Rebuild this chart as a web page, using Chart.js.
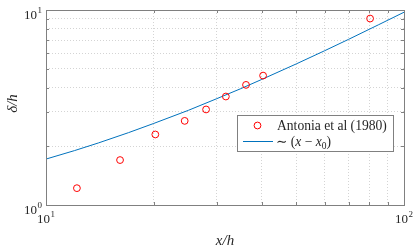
<!DOCTYPE html>
<html>
<head>
<meta charset="utf-8">
<script src="https://cdn.jsdelivr.net/npm/chart.js@4.4.1/dist/chart.umd.min.js"></script>
<style>
  html, body { margin: 0; padding: 0; background: #fff; }
  #wrap { width: 415px; height: 251px; }
</style>
</head>
<body>
<div id="wrap"><canvas id="plot" width="415" height="251"></canvas></div>
<script>
// data (log-log axes)
const antoniaX = [12.2, 16.1, 20.2, 24.4, 28.0, 31.8, 36.2, 40.4, 80.4];
const antoniaY = [1.22, 1.70, 2.30, 2.70, 3.09, 3.60, 4.13, 4.61, 9.04];
const fitX = [10, 12, 14, 17, 20, 25, 30, 35, 40, 50, 60, 70, 85, 100];
const fitY = [1.72, 1.90, 2.08, 2.35, 2.62, 3.06, 3.51, 3.95, 4.40, 5.29, 6.18, 7.07, 8.41, 9.74];
const xRange = [10, 100];
const yRange = [1, 10];
const xGridTicks = [10, 20, 30, 40, 50, 60, 70, 80, 90, 100];
const yGridTicks = [1, 2, 3, 4, 5, 6, 7, 8, 9, 10];
const xExponents = [1, 2];
const yExponents = [0, 1];
const legendNames = ['Antonia et al (1980)', '\u223C (x \u2212 x0)'];

const serif = '"Liberation Serif", "DejaVu Serif", serif';
const red = '#ff0000';
const blue = '#0072bd';
const boxColor = '#808080';

function toPoints(xs, ys) {
    return xs.map((x, i) => ({ x: x, y: ys[i] }));
}

function powerLabel(ctx, base, exp, x, y, align) {
    ctx.font = '13px ' + serif;
    const wb = ctx.measureText(base).width;
    ctx.font = '9px ' + serif;
    const we = ctx.measureText(exp).width;
    let left = x;
    if (align === 'right') left = x - wb - we - 0.5;
    if (align === 'center') left = x - (wb + we + 0.5) / 2;
    ctx.textAlign = 'left';
    ctx.textBaseline = 'alphabetic';
    ctx.font = '13px ' + serif;
    ctx.fillText(base, left, y);
    ctx.font = '9px ' + serif;
    ctx.fillText(exp, left + wb + 0.5, y - 6.5);
}

const axesFrame = {
    id: 'axesFrame',
    afterDatasetsDraw(chart) {
        const ctx = chart.ctx;
        const a = chart.chartArea;
        const xs = chart.scales.x;
        const ys = chart.scales.y;
        ctx.save();
        ctx.strokeStyle = boxColor;
        ctx.lineWidth = 1;
        // inward ticks on all four sides
        ctx.beginPath();
        xs.ticks.forEach(t => {
            const px = Math.round(xs.getPixelForValue(t.value)) + 0.5;
            if (px <= a.left + 1 || px >= a.right - 1) return;
            ctx.moveTo(px, a.bottom); ctx.lineTo(px, a.bottom - 3);
            ctx.moveTo(px, a.top); ctx.lineTo(px, a.top + 3);
        });
        ys.ticks.forEach(t => {
            const py = Math.round(ys.getPixelForValue(t.value)) + 0.5;
            if (py <= a.top + 1 || py >= a.bottom - 1) return;
            ctx.moveTo(a.left, py); ctx.lineTo(a.left + 3, py);
            ctx.moveTo(a.right, py); ctx.lineTo(a.right - 3, py);
        });
        ctx.stroke();
        ctx.strokeRect(a.left + 0.5, a.top + 0.5, a.right - a.left, a.bottom - a.top);
        ctx.restore();
    },
    afterDraw(chart) {
        const ctx = chart.ctx;
        const a = chart.chartArea;
        const xs = chart.scales.x;
        const ys = chart.scales.y;
        ctx.save();
        ctx.fillStyle = '#262626';

        xExponents.forEach(e => {
            const px = xs.getPixelForValue(Math.pow(10, e));
            powerLabel(ctx, '10', String(e), px, a.bottom + 18, 'center');
        });
        yExponents.forEach(e => {
            const py = ys.getPixelForValue(Math.pow(10, e));
            powerLabel(ctx, '10', String(e), a.left - 4, py + 9, 'right');
        });

        // axis titles
        ctx.font = 'italic 15px ' + serif;
        ctx.textAlign = 'center';
        ctx.textBaseline = 'alphabetic';
        ctx.fillText('x/h', (a.left + a.right) / 2, 245);
        ctx.save();
        ctx.translate(17, (a.top + a.bottom) / 2 - 4);
        ctx.rotate(-Math.PI / 2);
        ctx.fillText('\u03B4/h', 0, 0);
        ctx.restore();

        // legend box
        const bx = 237, by = 115, bw = 156, bh = 36;
        ctx.fillStyle = '#fff';
        ctx.fillRect(bx, by, bw, bh);
        ctx.strokeStyle = boxColor;
        ctx.lineWidth = 1;
        ctx.strokeRect(bx + 0.5, by + 0.5, bw, bh);

        const pts = chart.data.datasets[1];
        ctx.strokeStyle = pts.borderColor;
        ctx.lineWidth = pts.borderWidth;
        ctx.beginPath();
        ctx.arc(257.5, 125.5, pts.pointRadius, 0, Math.PI * 2);
        ctx.stroke();

        const fit = chart.data.datasets[0];
        ctx.strokeStyle = fit.borderColor;
        ctx.lineWidth = fit.borderWidth;
        ctx.beginPath();
        ctx.moveTo(243, 141.5);
        ctx.lineTo(273, 141.5);
        ctx.stroke();

        ctx.fillStyle = '#262626';
        ctx.textAlign = 'left';
        ctx.font = '13.6px ' + serif;
        ctx.fillText(legendNames[0], 277, 130);

        // "~ (x - x0)" with italic x and subscript 0
        let cx = 276;
        const parts = [
            ['\u223C ', '13.6px ' + serif, 0],
            ['(', '13.6px ' + serif, 0],
            ['x', 'italic 13.6px ' + serif, 0],
            [' \u2212 ', '13.6px ' + serif, 0],
            ['x', 'italic 13.6px ' + serif, 0],
            ['0', '9.5px ' + serif, 2.5],
            [')', '13.6px ' + serif, 0]
        ];
        parts.forEach(p => {
            ctx.font = p[1];
            ctx.fillText(p[0], cx, 146 + p[2]);
            cx += ctx.measureText(p[0]).width;
        });
        ctx.restore();
    }
};

function fixedTicks(values) {
    return scale => { scale.ticks = values.map(v => ({ value: v })); };
}

const chart = new Chart(document.getElementById('plot'), {
    type: 'scatter',
    data: {
        datasets: [{
            label: legendNames[1],
            data: toPoints(fitX, fitY),
            showLine: true,
            borderColor: blue,
            borderWidth: 1,
            pointRadius: 0,
            fill: false,
            tension: 0,
            order: 2
        }, {
            label: legendNames[0],
            data: toPoints(antoniaX, antoniaY),
            showLine: false,
            borderColor: red,
            backgroundColor: 'rgba(0,0,0,0)',
            borderWidth: 1,
            pointRadius: 3.4,
            pointStyle: 'circle',
            order: 1
        }]
    },
    options: {
        responsive: false,
        animation: false,
        devicePixelRatio: 1,
        layout: { padding: { left: 46, right: 11, top: 10, bottom: 46 } },
        plugins: {
            legend: { display: false },
            tooltip: { enabled: false }
        },
        scales: {
            x: {
                type: 'logarithmic',
                min: xRange[0],
                max: xRange[1],
                afterBuildTicks: fixedTicks(xGridTicks),
                ticks: { display: false, autoSkip: false },
                grid: { color: '#d4d4d4', lineWidth: 1, drawTicks: false },
                border: { display: false, dash: [1, 2] },
                afterFit: s => { s.height = 0; }
            },
            y: {
                type: 'logarithmic',
                min: yRange[0],
                max: yRange[1],
                afterBuildTicks: fixedTicks(yGridTicks),
                ticks: { display: false, autoSkip: false },
                grid: { color: '#d4d4d4', lineWidth: 1, drawTicks: false },
                border: { display: false, dash: [1, 2] },
                afterFit: s => { s.height = 0; s.width = 0; }
            }
        }
    },
    plugins: [axesFrame]
});
</script>
</body>
</html>
